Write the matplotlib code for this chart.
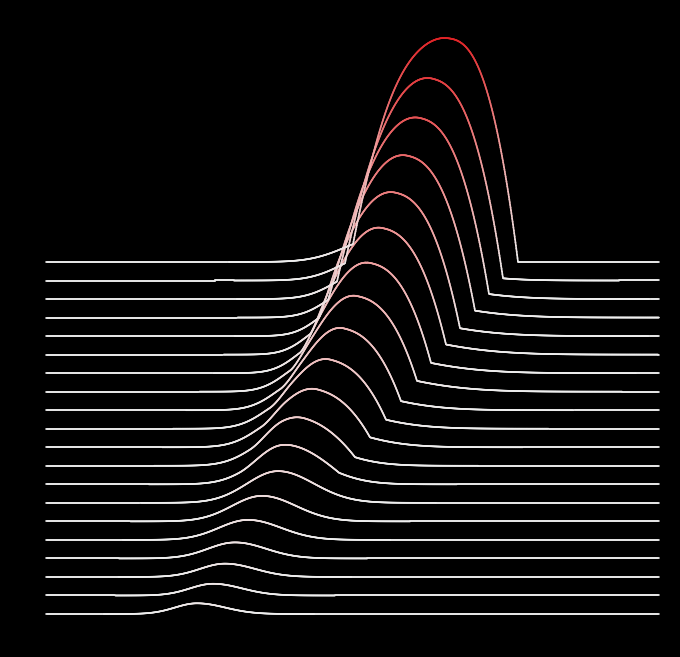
import numpy as np
import matplotlib
matplotlib.use('Agg')
import matplotlib.pyplot as plt
from matplotlib.collections import LineCollection
from matplotlib.colors import LinearSegmentedColormap, Normalize

# rows are listed from the top line (0) down to the bottom line (19)
n_rows = 20
row_gap = 18.53
x_min, x_max = 0, 613

# sharp-edged main bump of each row (peak, and its edges left/right of the peak)
peak_pos = [399, 384, 371, 358, 346, 333, 321, 308, 295, 281.5,
            269, 256, 243, 232, 216, 202, 189, 179, 167, 151]
peak_height = [224, 202.5, 181.6, 162.4, 144, 127, 110.6, 96, 82.3, 69.7,
               58.5, 48.5, 39.5, 31.7, 25.5, 20, 16, 13.3, 11.7, 10.7]
front_left = [92, 85, 80, 76, 73, 69, 67, 64, 61, 58,
              54, 52, 50, 0, 0, 0, 0, 0, 0, 0]
front_right = [73, 73, 72, 71, 68, 67, 64, 63, 60, 58.5,
               55, 53, 50, 0, 0, 0, 0, 0, 0, 0]
front_soft = [1, 1, 1, 1.1, 1.2, 1.4, 1.6, 1.8, 2, 2,
              2, 2, 2, 1, 1, 1, 1, 1, 1, 1]
right_power = 2.5

# smooth background hump of each row
bg_amp = [24, 26, 27, 28, 29, 30, 30, 30, 30, 30,
          31, 31, 32, 31.7, 25.5, 20, 16, 13.3, 11.7, 10.7]
bg_center = [334, 328, 318, 307, 296, 285, 275, 265, 256, 247,
             241, 237, 236, 232, 216, 202, 189, 179, 167, 151]
bg_left = [35, 32, 29, 26, 24, 24, 24, 25, 26, 27,
           28, 29, 30, 31, 30, 29, 27, 25, 23, 22]
bg_right = [30, 58, 68, 73, 73, 78, 75, 74, 64, 60,
            55, 45, 40, 36, 34, 33, 31, 30, 29, 28]


def hump(x, amp, mu, sl, sr):
    s = np.where(x < mu, sl, sr)
    return amp * np.exp(-0.5 * ((x - mu) / s) ** 2)


def front(x, amp, mu, lo, hi, soft):
    left = np.clip(1 - ((x - mu) / (mu - lo)) ** 2, 0, None) ** soft
    right = np.clip(1 - (np.abs(x - mu) / (hi - mu)) ** right_power, 0, None)
    return amp * np.where(x < mu, left, right)


def row_curve(x, i):
    bg = hump(x, bg_amp[i], bg_center[i], bg_left[i], bg_right[i])
    if front_left[i] == 0:
        return bg
    lo = peak_pos[i] - front_left[i]
    hi = peak_pos[i] + front_right[i]
    mu = peak_pos[i]
    amp = peak_height[i] - np.interp(mu, x, bg)
    # small nudge of the bump so the summed curve peaks near the picture's peak
    for _ in range(30):
        y = bg + front(x, amp, mu, lo, hi, front_soft[i])
        k = np.argmax(y)
        amp += peak_height[i] - y[k]
        mu = np.clip(mu + 0.7 * (peak_pos[i] - x[k]),
                     peak_pos[i] - 3, peak_pos[i] + 3)
    return bg + front(x, amp, mu, lo, hi, front_soft[i])


cmap = LinearSegmentedColormap.from_list('wr', ['#eeeeee', '#f0a0a0', '#e02427'])
norm = Normalize(0, max(peak_height))

fig = plt.figure(figsize=(6.8, 6.57), dpi=100, facecolor='black')
ax = fig.add_axes([0, 0, 1, 1])
ax.set_facecolor('black')

x = np.linspace(x_min, x_max, 1500)
for i in range(n_rows - 1, -1, -1):
    y = row_curve(x, i)
    base = (n_rows - 1 - i) * row_gap
    pts = np.column_stack([x, y + base]).reshape(-1, 1, 2)
    segs = np.concatenate([pts[:-1], pts[1:]], axis=1)
    lc = LineCollection(segs, cmap=cmap, norm=norm, linewidths=1.2,
                        capstyle='round', zorder=n_rows - i)
    lc.set_array(0.5 * (y[:-1] + y[1:]))
    ax.add_collection(lc)

ax.set_xlim(x_min - 46, x_max + 21)
ax.set_ylim(-43, (n_rows - 1) * row_gap + 262)
ax.axis('off')

fig.savefig('out.png', dpi=100, facecolor='black')
